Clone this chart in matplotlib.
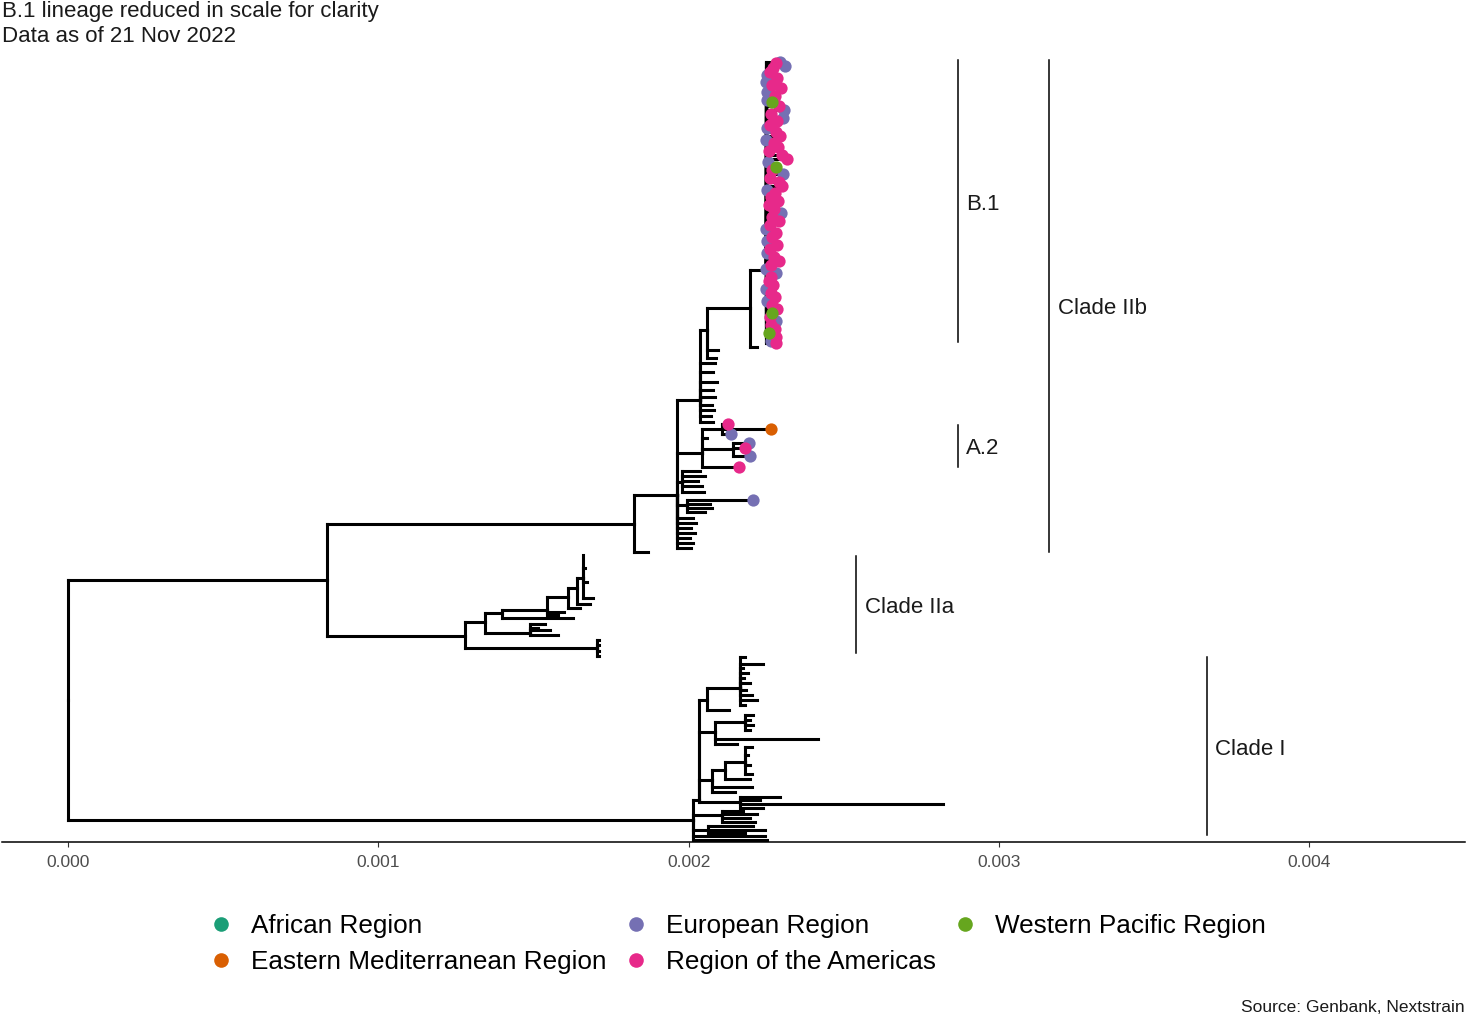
import numpy as np
import matplotlib
matplotlib.use("Agg")
import matplotlib.pyplot as plt
from matplotlib.collections import LineCollection
from matplotlib.lines import Line2D

plt.rcParams["font.family"] = ["Liberation Sans", "DejaVu Sans"]

# ---------------- text ----------------
title_line1 = "B.1 lineage reduced in scale for clarity"
title_line2 = "Data as of 21 Nov 2022"
caption = "Source: Genbank, Nextstrain"

# ---------------- regions ----------------
region_keys = ["AF", "EM", "EU", "AM", "WP"]
region_names = ["African Region", "Eastern Mediterranean Region", "European Region",
                "Region of the Americas", "Western Pacific Region"]
region_colors = ["#1B9E77", "#D95F02", "#7570B3", "#E7298A", "#66A61E"]

# ---------------- axis ----------------
x_ticks = [0.000, 0.001, 0.002, 0.003, 0.004]
x_tick_labels = ["0.000", "0.001", "0.002", "0.003", "0.004"]

# ---------------- internal nodes (divergence in 1e-3 subs/site, row = vertical layout position) ----------------
node_name = ["R", "CII", "CI", "IIb", "IIa", "IIbM", "U", "Ua", "B1", "B1t",
             "A2", "A2a", "A2b", "L1", "L2",
             "IIa1", "IIa11", "IIa111", "IIa1111", "IIa11111", "IIa_top", "IIa12", "IIa2",
             "CIa", "CIa1", "CIa11", "CIa2", "CIa21", "CIa3", "CIa31", "CIa311", "CIa4", "CIb", "CIc"]
node_parent = [None, "R", "R", "CII", "CII", "IIb", "IIbM", "U", "Ua", "B1",
               "IIbM", "A2", "A2", "IIbM", "IIbM",
               "IIa", "IIa1", "IIa11", "IIa111", "IIa1111", "IIa11111", "IIa1", "IIa",
               "CI", "CIa", "CIa1", "CIa", "CIa2", "CIa", "CIa3", "CIa31", "CIa", "CI", "CI"]
node_div = [0.000, 0.835, 2.014, 1.824, 1.279, 1.963, 2.037, 2.059, 2.198, 2.249,
            2.043, 2.108, 2.143, 1.979, 1.995,
            1.344, 1.399, 1.544, 1.611, 1.640, 1.660, 1.489, 1.705,
            2.033, 2.059, 2.166, 2.085, 2.182, 2.075, 2.117, 2.182, 2.166, 2.108, 2.063]
node_row = [700, 580, 820, 524, 636, 495, 400, 330, 308, 270,
            453, 429, 449, 482, 505,
            622, 613, 610, 597, 588, 578, 633, 648,
            800, 700, 688, 732, 722, 780, 770, 762, 802, 815, 830]

# ---------------- tips outside the B.1 column ----------------
tip_parent = ["IIb",
              "U", "U", "U", "U", "U", "U", "U", "U", "U",
              "Ua", "Ua", "B1",
              "A2a", "A2a", "A2a", "A2b", "A2b", "A2b", "A2", "A2",
              "L1", "L1", "L1", "L1", "L1",
              "L2", "L2", "L2", "L2",
              "IIbM", "IIbM", "IIbM", "IIbM", "IIbM", "IIbM", "IIbM",
              "IIa_top", "IIa_top", "IIa_top", "IIa_top", "IIa11111", "IIa1111",
              "IIa111", "IIa111", "IIa11",
              "IIa12", "IIa12", "IIa12", "IIa12",
              "IIa2", "IIa2", "IIa2", "IIa2",
              "CIa11", "CIa11", "CIa11", "CIa11", "CIa11", "CIa11", "CIa11", "CIa11", "CIa11", "CIa11",
              "CIa1",
              "CIa21", "CIa21", "CIa21", "CIa21", "CIa2", "CIa2",
              "CIa311", "CIa311", "CIa311", "CIa311", "CIa31", "CIa3", "CIa3",
              "CIa4", "CIa4", "CIa4", "CIa4",
              "CIb", "CIb", "CIb", "CIb",
              "CIc", "CIc", "CIc",
              "CI", "CI"]
tip_div = [1.869,
           2.085, 2.078, 2.091, 2.078, 2.085, 2.075, 2.082, 2.072, 2.078,
           2.095, 2.088, 2.220,
           2.127, 2.266, 2.137, 2.195, 2.182, 2.198, 2.059, 2.162,
           2.037, 2.053, 2.030, 2.043, 2.050,
           2.208, 2.069, 2.075, 2.053,
           2.014, 2.024, 2.008, 2.020, 2.004, 2.014, 2.008,
           1.660, 1.666, 1.672, 1.692, 1.682, 1.650,
           1.600, 1.579, 1.627,
           1.537, 1.515, 1.553, 1.579,
           1.712, 1.712, 1.712, 1.712,
           2.182, 2.240, 2.175, 2.191, 2.178, 2.198, 2.185, 2.204, 2.220, 2.182,
           2.130,
           2.208, 2.198, 2.208, 2.198, 2.417, 2.156,
           2.204, 2.191, 2.198, 2.204, 2.198, 2.204, 2.150,
           2.295, 2.230, 2.820, 2.240,
           2.175, 2.220, 2.198, 2.214,
           2.208, 2.246, 2.182,
           2.246, 2.253]
tip_row = [552,
           363, 372, 382, 390, 397, 405, 410, 416, 422,
           350, 358, 347,
           424, 429, 434, 443, 448, 456, 438, 467,
           471, 476, 481, 486, 492,
           500, 504, 508, 512,
           518, 523, 528, 533, 538, 543, 548,
           555, 568, 582, 598, 604, 608,
           612, 615, 618,
           624, 628, 630, 635,
           640, 645, 651, 656,
           657, 664, 668, 673, 678, 683, 690, 695, 700, 705,
           710,
           715, 720, 725, 730, 739, 744,
           747, 755, 765, 774, 779, 787, 792,
           797, 800, 804, 808,
           811, 814, 818, 822,
           826, 830, 833,
           836, 840]
tip_region = ["",
              "", "", "", "", "", "", "", "", "",
              "", "", "",
              "AM", "EM", "EU", "EU", "AM", "EU", "", "AM",
              "", "", "", "", "",
              "EU", "", "", "",
              "", "", "", "", "", "", "",
              "", "", "", "", "", "",
              "", "", "",
              "", "", "", "",
              "", "", "", "",
              "", "", "", "", "", "", "", "", "", "",
              "",
              "", "", "", "", "", "",
              "", "", "", "", "", "", "",
              "", "", "", "",
              "", "", "", "",
              "", "", "",
              "", ""]

# ---------------- B.1 column tips (parent B1t) ----------------
b1_row = [62, 63, 66, 68, 72, 75, 78, 82, 85, 88, 92, 96, 100, 102, 106, 110, 114, 118, 121, 125,
          128, 132, 136, 140, 143, 147, 151, 155, 159, 162, 167, 170, 174, 178, 182, 186, 190, 193,
          197, 201, 205, 209, 213, 217, 221, 225, 229, 233, 237, 241, 245, 249, 253, 257, 261, 265,
          269, 273, 277, 281, 285, 289, 293, 297, 301, 305, 309, 313, 317, 321, 325, 329, 333, 337,
          341, 343]
b1_div = [2.295, 2.282, 2.311, 2.272, 2.262, 2.253, 2.285, 2.250, 2.269, 2.298, 2.253, 2.278, 2.253,
          2.269, 2.291, 2.307, 2.266, 2.304, 2.285, 2.262, 2.253, 2.282, 2.295, 2.250, 2.275, 2.288,
          2.259, 2.301, 2.317, 2.256, 2.282, 2.269, 2.304, 2.262, 2.291, 2.301, 2.253, 2.278, 2.266,
          2.288, 2.259, 2.275, 2.298, 2.269, 2.291, 2.262, 2.250, 2.282, 2.269, 2.253, 2.285, 2.262,
          2.253, 2.275, 2.291, 2.266, 2.250, 2.282, 2.266, 2.259, 2.272, 2.250, 2.266, 2.278, 2.253,
          2.269, 2.285, 2.269, 2.262, 2.282, 2.266, 2.278, 2.259, 2.282, 2.266, 2.282]
b1_region = ["EU", "AM", "EU", "AM", "AM", "EU", "AM", "EU", "AM", "AM", "EU", "AM", "EU",
             "WP", "AM", "EU", "AM", "EU", "AM", "AM", "EU", "AM", "AM", "EU", "AM", "AM",
             "AM", "AM", "AM", "EU", "WP", "AM", "EU", "AM", "AM", "AM", "EU", "AM", "AM",
             "AM", "AM", "AM", "EU", "AM", "AM", "AM", "EU", "AM", "AM", "EU", "AM", "AM",
             "EU", "AM", "AM", "AM", "EU", "EU", "AM", "AM", "AM", "EU", "AM", "AM", "EU",
             "AM", "AM", "WP", "AM", "EU", "AM", "AM", "WP", "AM", "EU", "AM"]

# ---------------- clade annotations ----------------
clade_names = ["B.1", "A.2", "Clade IIb", "Clade IIa", "Clade I"]
clade_div = [2.868, 2.868, 3.162, 2.540, 3.671]
clade_row_top = [60, 425, 60, 556, 657]
clade_row_bottom = [342, 467, 552, 653, 835]
clade_label_row = [203, 447, 307, 606, 748]

# =============================================================
W, H = 1467, 1016
fig = plt.figure(figsize=(W / 100, H / 100), dpi=100)
ax = fig.add_axes([2 / W, 1 - 842 / H, 1463 / W, (842 - 52) / H])
ax.set_xlim(-0.0002127, 0.004502)
ax.set_ylim(842, 52)

pos = {n: (d * 1e-3, r) for n, d, r in zip(node_name, node_div, node_row)}

segs = []
def add_branch(pp, cc):
    segs.append([(pp[0], cc[1]), (cc[0], cc[1])])
    segs.append([(pp[0], pp[1]), (pp[0], cc[1])])

for n, p in zip(node_name, node_parent):
    if p is not None:
        add_branch(pos[p], pos[n])
for p, d, r in zip(tip_parent, tip_div, tip_row):
    add_branch(pos[p], (d * 1e-3, r))
for d, r in zip(b1_div, b1_row):
    add_branch(pos["B1t"], (d * 1e-3, r))

lc = LineCollection(segs, colors="black", linewidths=2.2, capstyle="projecting", zorder=2)
ax.add_collection(lc)

# tip points
all_div = np.array(list(tip_div) + list(b1_div)) * 1e-3
all_row = np.array(list(tip_row) + list(b1_row))
all_reg = np.array(list(tip_region) + list(b1_region))
for key in ["AF", "EU", "AM", "WP", "EM"]:
    m = all_reg == key
    if m.any():
        ax.scatter(all_div[m], all_row[m], s=78, color=region_colors[region_keys.index(key)],
                   linewidths=0, zorder=3)

# clade bars
for name, d, t, b, lr in zip(clade_names, clade_div, clade_row_top, clade_row_bottom, clade_label_row):
    ax.plot([d * 1e-3, d * 1e-3], [t, b], color="black", lw=1.1, zorder=2)
    ax.annotate(name, (d * 1e-3, lr + 2), xytext=(6, 0), textcoords="offset points",
                ha="left", va="center", fontsize=16, color="#1a1a1a")

# axes styling
for s in ["top", "left", "right"]:
    ax.spines[s].set_visible(False)
ax.spines["bottom"].set_linewidth(1.1)
ax.spines["bottom"].set_color("black")
ax.set_yticks([])
ax.set_xticks(x_ticks)
ax.set_xticklabels(x_tick_labels)
ax.tick_params(axis="x", length=3.5, width=0.8, color="#333333", labelsize=12.5,
               labelcolor="#4D4D4D", pad=6)

# titles
fig.text(2 / W, 1 - 12 / H, title_line1, ha="left", va="center", fontsize=16, color="#1a1a1a")
fig.text(2 / W, 1 - 36 / H, title_line2, ha="left", va="center", fontsize=16, color="#1a1a1a")
fig.text(1465 / W, 1 - 1007 / H, caption, ha="right", va="center", fontsize=12.5, color="#1a1a1a")

# legend
handles = [Line2D([0], [0], marker="o", linestyle="", markersize=10.5, markeredgewidth=0,
                  color=c) for c in region_colors]
fig.legend(handles, region_names, loc="center", bbox_to_anchor=(738 / W, 1 - 944 / H),
           ncol=3, frameon=False, fontsize=18.8, handlelength=0.8, handletextpad=0.75,
           columnspacing=0.72, labelspacing=0.47, borderpad=0, borderaxespad=0)

fig.savefig("out.png", dpi=100)
